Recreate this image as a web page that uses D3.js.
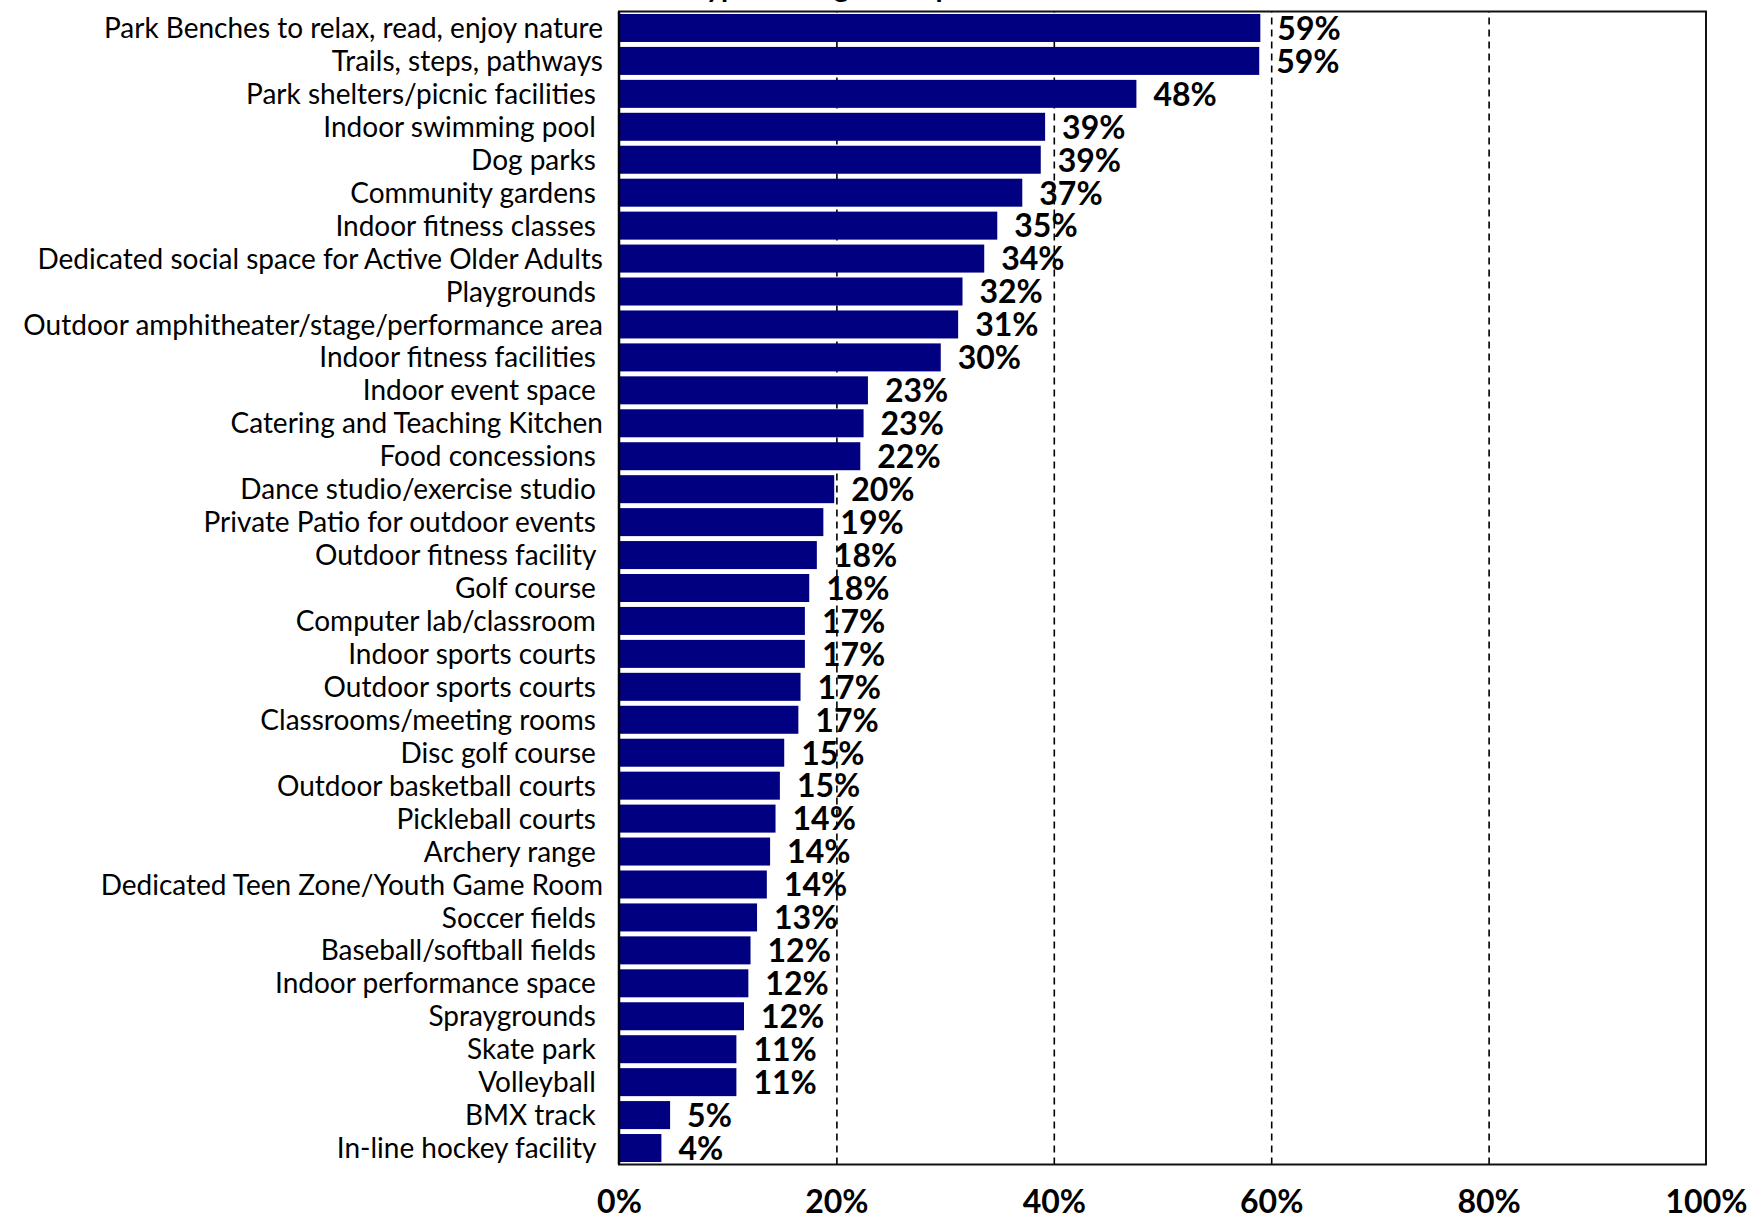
<!DOCTYPE html>
<html>
<head>
<meta charset="utf-8">
<script src="https://cdn.jsdelivr.net/npm/d3@7"></script>
<style>
  html, body { margin: 0; padding: 0; background: #fff; }
  svg { display: block; }
  text { font-family: Lato, "Open Sans", sans-serif; }
</style>
</head>
<body>
<svg id="chart" width="1748" height="1216"></svg>
<script>
// Amenities, in survey order (some source labels carry a trailing space)
const categories = [
  "Park Benches to relax, read, enjoy nature",
  "Trails, steps, pathways",
  "Park shelters/picnic facilities ",
  "Indoor swimming pool ",
  "Dog parks ",
  "Community gardens ",
  "Indoor fitness classes ",
  "Dedicated social space for Active Older Adults",
  "Playgrounds ",
  "Outdoor amphitheater/stage/performance area",
  "Indoor fitness facilities ",
  "Indoor event space ",
  "Catering and Teaching Kitchen",
  "Food concessions ",
  "Dance studio/exercise studio ",
  "Private Patio for outdoor events ",
  "Outdoor fitness facility ",
  "Golf course ",
  "Computer lab/classroom ",
  "Indoor sports courts ",
  "Outdoor sports courts ",
  "Classrooms/meeting rooms ",
  "Disc golf course ",
  "Outdoor basketball courts ",
  "Pickleball courts ",
  "Archery range ",
  "Dedicated Teen Zone/Youth Game Room",
  "Soccer fields ",
  "Baseball/softball fields ",
  "Indoor performance space ",
  "Spraygrounds ",
  "Skate park ",
  "Volleyball ",
  "BMX track ",
  "In-line hockey facility "
];

// Share of respondents (%) for each amenity
const shares = [
  59.0, 58.9, 47.6, 39.2, 38.8, 37.1, 34.8, 33.6, 31.6, 31.2,
  29.6, 22.9, 22.5, 22.2, 19.8, 18.8, 18.2, 17.5, 17.1, 17.1,
  16.7, 16.5, 15.2, 14.8, 14.4, 13.9, 13.6, 12.7, 12.1, 11.9,
  11.5, 10.8, 10.8, 4.7, 3.9
];

// Axis ticks
const tickValues = [0, 20, 40, 60, 80, 100];
const gridValues = [20, 40, 60, 80];

const chartTitle = "Interest in Each Type and Age Group";

const data = categories.map((c, i) => ({ category: c, value: shares[i] }));

const svg = d3.select("#chart");
const margin = { top: 11.5, left: 619 };
const width = 1087, height = 1153;

const g = svg.append("g").attr("transform", `translate(${margin.left},${margin.top})`);

const x = d3.scaleLinear().domain([0, 100]).range([0, width]);
const y = d3.scaleBand().domain(categories).range([0, height])
  .paddingInner(0.15).paddingOuter(0.075);

// Title (sits above the plot frame, mostly off the top of the page)
svg.append("text")
  .attr("x", 485).attr("y", -3)
  .attr("text-anchor", "start")
  .attr("font-weight", 700)
  .attr("font-size", 29)
  .attr("fill", "#000")
  .text(chartTitle);

// Dashed vertical gridlines
const grid = g.append("g")
  .attr("transform", `translate(0,${height})`)
  .call(d3.axisBottom(x).tickValues(gridValues).tickSize(-height).tickFormat(""));
grid.select(".domain").remove();
grid.selectAll(".tick line")
  .attr("stroke", "#000")
  .attr("stroke-width", 1.6)
  .attr("stroke-dasharray", "7,5");

// Bars
g.append("g").selectAll("rect")
  .data(data)
  .join("rect")
  .attr("x", x(0))
  .attr("y", d => y(d.category))
  .attr("width", d => x(d.value) - x(0))
  .attr("height", y.bandwidth())
  .attr("fill", "#000080");

// Category labels
g.append("g").selectAll("text")
  .data(data)
  .join("text")
  .attr("x", -16)
  .attr("y", d => y(d.category) + y.bandwidth() / 2)
  .attr("dy", "0.36em")
  .attr("text-anchor", "end")
  .attr("xml:space", "preserve")
  .style("white-space", "pre")
  .attr("font-size", 28)
  .attr("fill", "#000")
  .text(d => d.category);

// Value labels
g.append("g").selectAll("text")
  .data(data)
  .join("text")
  .attr("x", d => x(d.value) + 17)
  .attr("y", d => y(d.category) + y.bandwidth() / 2)
  .attr("dy", "0.37em")
  .attr("font-weight", 700)
  .attr("font-size", 32)
  .attr("fill", "#000")
  .text(d => Math.round(d.value) + "%");

// Bottom tick labels
const xAxis = g.append("g")
  .attr("transform", `translate(0,${height})`)
  .call(d3.axisBottom(x).tickValues(tickValues).tickSize(0).tickPadding(26)
    .tickFormat(d => d + "%"));
xAxis.select(".domain").remove();
xAxis.selectAll("text")
  .attr("font-family", "Lato, sans-serif")
  .attr("font-weight", 700)
  .attr("font-size", 32)
  .attr("fill", "#000");

// Plot frame
g.append("rect")
  .attr("x", 0).attr("y", 0)
  .attr("width", width).attr("height", height)
  .attr("fill", "none")
  .attr("stroke", "#111")
  .attr("stroke-width", 2);
g.append("line")
  .attr("x1", 0).attr("x2", 0).attr("y1", 0).attr("y2", height)
  .attr("stroke", "#000").attr("stroke-width", 2.5);
</script>
</body>
</html>
